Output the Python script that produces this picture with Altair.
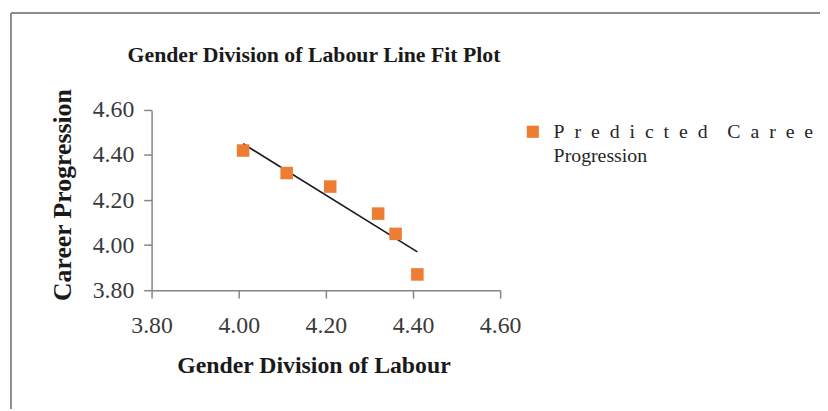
import altair as alt
import pandas as pd

# ---- data ----
gender_division = [4.01, 4.11, 4.21, 4.32, 4.36, 4.41]
career_progression = [4.42, 4.32, 4.26, 4.14, 4.05, 3.87]
fit_x = [4.01, 4.41]
fit_y = [4.45, 3.97]
tick_values = [3.80, 4.00, 4.20, 4.40, 4.60]

title_text = "Gender Division of Labour Line Fit Plot"
x_title = "Gender Division of Labour"
y_title = "Career Progression"
GAP = "\u00a0\u00a0"
legend_line1 = (GAP.join("Predicted") + GAP + "\u00a0\u00a0" + GAP.join("Career"))
legend_line2 = "Progression"

FONT = "Liberation Serif"
ORANGE = "#EC7D32"
AXIS_GRAY = "#868686"
LABEL_COLOR = "#3a3a3a"

pts = pd.DataFrame({"x": gender_division, "y": career_progression})
fit = pd.DataFrame({"x": fit_x, "y": fit_y})

xscale = alt.Scale(domain=[3.8, 4.6], nice=False, zero=False)
yscale = alt.Scale(domain=[3.8, 4.6], nice=False, zero=False)

xaxis = alt.Axis(values=tick_values, format=".2f", grid=False, title=None,
                 domainColor=AXIS_GRAY, domainWidth=1.5, tickColor=AXIS_GRAY, tickWidth=1.5,
                 tickSize=8, labelFont=FONT, labelFontSize=24, labelColor=LABEL_COLOR,
                 labelPadding=16, labelFlush=False)
yaxis = alt.Axis(values=tick_values, format=".2f", grid=False, title=None,
                 domainColor=AXIS_GRAY, domainWidth=1.5, tickColor=AXIS_GRAY, tickWidth=1.5,
                 tickSize=8, labelFont=FONT, labelFontSize=24, labelColor=LABEL_COLOR,
                 labelPadding=10, labelFlush=False)

points = alt.Chart(pts).mark_square(size=160, color=ORANGE, opacity=1).encode(
    x=alt.X("x:Q", scale=xscale, axis=xaxis),
    y=alt.Y("y:Q", scale=yscale, axis=yaxis),
)

line = alt.Chart(fit).mark_line(color="#1a1a1a", strokeWidth=1.6).encode(
    x=alt.X("x:Q", scale=xscale),
    y=alt.Y("y:Q", scale=yscale),
)


def label(text, x, y, size, bold=False, align="left", angle=0, color="#1a1a1a"):
    kw = dict(font=FONT, fontSize=size, fontWeight="bold" if bold else "normal",
              align=align, baseline="alphabetic", color=color)
    if angle:
        kw["angle"] = angle
    return alt.Chart(pd.DataFrame({"t": [text]})).mark_text(**kw).encode(
        text="t:N", x=alt.value(x), y=alt.value(y))


title = label(title_text, 164, -48, 22, bold=True, align="center")
xt = label(x_title, 164, 266, 24, bold=True, align="center")
yt = label(y_title, -81, 86, 26, bold=True, align="center", angle=270)
leg1 = label(legend_line1, 406, 28, 20, color="#262626")
leg2 = label(legend_line2, 406, 53, 20, color="#262626")

leg_sq = alt.Chart(pd.DataFrame({"t": ["Predicted Career Progression"]})).mark_square(
    size=150, color=ORANGE, opacity=1).encode(x=alt.value(385), y=alt.value(22))

border_left = alt.Chart(pd.DataFrame({"t": [0]})).mark_rule(color="#8c8c8c", strokeWidth=2).encode(
    x=alt.value(-142), y=alt.value(-98), y2=alt.value(302))
border_top = alt.Chart(pd.DataFrame({"t": [0]})).mark_rule(color="#8c8c8c", strokeWidth=2).encode(
    x=alt.value(-142), x2=alt.value(675), y=alt.value(-98))

chart = alt.layer(
    border_left, border_top, line, points, title, xt, yt, leg_sq, leg1, leg2
).properties(
    width=352, height=182,
    padding={"left": 145, "top": 101, "right": 323, "bottom": 120},
    autosize=alt.AutoSizeParams(type="none"),
    background="white",
).configure_view(stroke=None)

chart.save("out.html", embed_options={"renderer": "svg", "actions": False})
